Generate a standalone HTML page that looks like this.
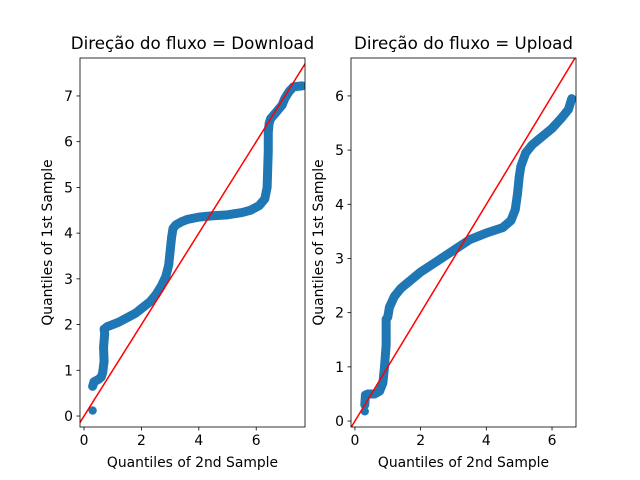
<!DOCTYPE html>
<html><head><meta charset="utf-8"><style>body{margin:0;background:#fff}svg{display:block;font-family:"DejaVu Sans","Liberation Sans",sans-serif}</style></head>
<body>
<svg id="chart" width="640" height="480"></svg>
<script>
const leftX=[0.3,0.3,0.35,0.5,0.6,0.65,0.7,0.68,0.72,0.7,0.8,1.0,1.2,1.5,1.8,2.0,2.3,2.5,2.7,2.85,2.95,3.0,3.05,3.1,3.2,3.4,3.6,4.0,4.5,5.0,5.5,5.8,6.1,6.3,6.38,6.4,6.42,6.42,6.45,6.5,6.7,6.9,7.0,7.15,7.3,7.6];
const leftY=[0.12,0.65,0.75,0.8,0.85,0.95,1.2,1.5,1.8,1.9,1.95,2.0,2.05,2.15,2.25,2.35,2.5,2.65,2.85,3.05,3.3,3.6,3.9,4.1,4.18,4.25,4.3,4.35,4.38,4.4,4.45,4.5,4.6,4.75,5.0,5.4,5.8,6.2,6.4,6.5,6.65,6.8,6.95,7.1,7.2,7.22];
const rightX=[0.3,0.3,0.32,0.4,0.6,0.75,0.85,0.9,0.95,0.95,0.95,1.0,1.05,1.2,1.4,1.6,2.0,2.5,3.0,3.5,4.0,4.5,4.75,4.88,4.95,5.0,5.05,5.2,5.4,5.6,6.0,6.3,6.5,6.6];
const rightY=[0.18,0.3,0.48,0.5,0.5,0.55,0.7,1.0,1.4,1.7,1.88,1.92,2.1,2.3,2.45,2.55,2.75,2.95,3.15,3.35,3.47,3.57,3.7,3.9,4.2,4.5,4.7,4.95,5.1,5.2,5.4,5.6,5.75,5.95];
const leftXTicks=[0,2,4,6], leftYTicks=[0,1,2,3,4,5,6,7];
const rightXTicks=[0,2,4,6], rightYTicks=[0,1,2,3,4,5,6];
const NS="http://www.w3.org/2000/svg";
const svg=document.getElementById('chart');
function mk(t,a,p){const e=document.createElementNS(NS,t);for(const k in a)e.setAttribute(k,a[k]);(p||svg).appendChild(e);return e;}
function panel(name,box,xd,yd,xs,ys,xt,yt,title){
  const g=mk('g',{});
  
  
  const sx=v=>box.x+(v-xd[0])/(xd[1]-xd[0])*box.w;
  const sy=v=>box.y+box.h-(v-yd[0])/(yd[1]-yd[0])*box.h;
  const cp='cp'+name;
  const c=mk('clipPath',{id:cp},g);mk('rect',{x:box.x,y:box.y,width:box.w,height:box.h},c);
  const pts=mk('g',{'clip-path':`url(#${cp})`},g);
  
  
  let d='';
  for(let i=1;i<xs.length;i++){d+=(i==1?'M':'L')+sx(xs[i])+' '+sy(ys[i]);}
  const path=mk('path',{d:d,fill:'none',stroke:'#1f77b4','stroke-width':9,'stroke-linecap':'round','stroke-linejoin':'round'},pts);
  
  
  for(let i=0;i<xs.length;i++){
    const ci=mk('circle',{cx:sx(xs[i]),cy:sy(ys[i]),r:4.2,fill:'#1f77b4'},pts);
    
    
  }
  const lo=Math.min(xd[0],yd[0]),hi=Math.max(xd[1],yd[1]);
  const ln=mk('line',{x1:sx(lo),y1:sy(lo),x2:sx(hi),y2:sy(hi),stroke:'red','stroke-width':1.5,'clip-path':`url(#${cp})`},g);
  
  
  mk('rect',{x:box.x,y:box.y,width:box.w,height:box.h,fill:'none',stroke:'#000','stroke-width':0.8},g);
  xt.forEach(v=>{const X=sx(v);mk('line',{x1:X,y1:box.y+box.h,x2:X,y2:box.y+box.h+3.5,stroke:'#000','stroke-width':0.8},g);
    const t=mk('text',{x:X,y:box.y+box.h+18,'text-anchor':'middle','font-size':13.9},g);t.textContent=v;
    });
  yt.forEach(v=>{const Y=sy(v);mk('line',{x1:box.x,y1:Y,x2:box.x-3.5,y2:Y,stroke:'#000','stroke-width':0.8},g);
    const t=mk('text',{x:box.x-7,y:Y+5,'text-anchor':'end','font-size':13.9},g);t.textContent=v;
    });
  const xl=mk('text',{x:box.x+box.w/2,y:467,'text-anchor':'middle','font-size':13.9},g);xl.textContent='Quantiles of 2nd Sample';
  
  const yx=box.x-28,yy=box.y+box.h/2;
  const yl=mk('text',{x:yx,y:yy,'text-anchor':'middle','font-size':13.9,transform:`rotate(-90 ${yx} ${yy})`},g);yl.textContent='Quantiles of 1st Sample';
  
  const tt=mk('text',{x:box.x+box.w/2,y:49,'text-anchor':'middle','font-size':16.7},g);tt.textContent=title;
  
}
panel('download-panel',{x:80,y:58,w:225,h:369},[-0.14,7.7],[-0.24,7.83],leftX,leftY,leftXTicks,leftYTicks,'Direção do fluxo = Download');
panel('upload-panel',{x:351,y:58,w:225,h:369},[-0.12,6.73],[-0.11,6.7],rightX,rightY,rightXTicks,rightYTicks,'Direção do fluxo = Upload');
</script>
</body></html>
